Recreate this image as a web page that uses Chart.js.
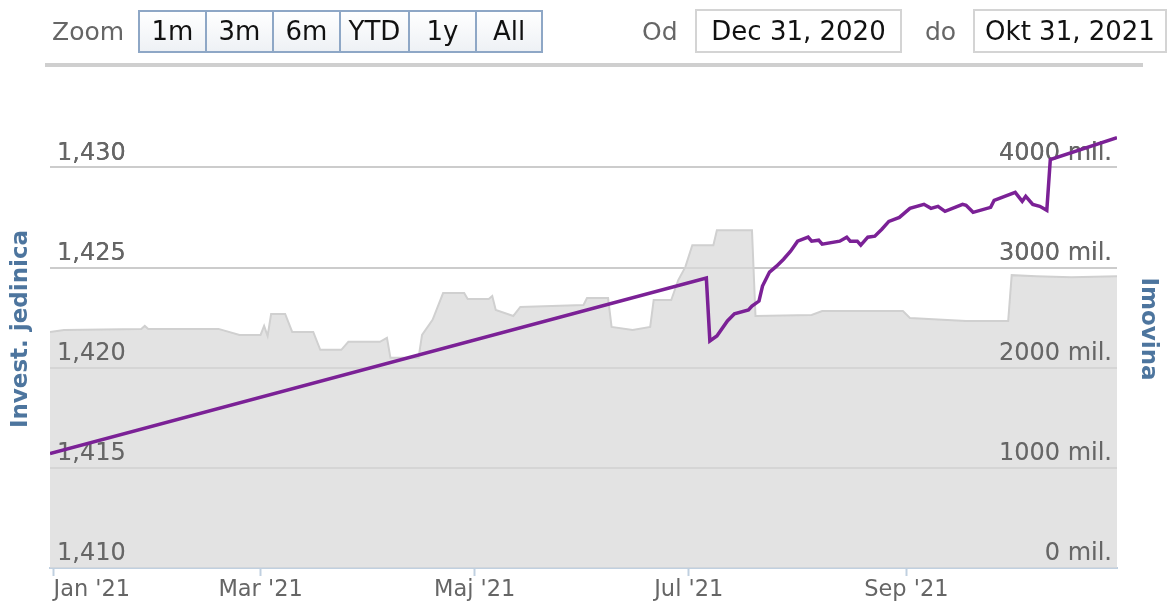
<!DOCTYPE html>
<html>
<head>
<meta charset="utf-8">
<script src="https://cdn.jsdelivr.net/npm/chart.js@4.4.1/dist/chart.umd.min.js"></script>
<style>
  body { margin: 0; background: #fff; font-family: "DejaVu Sans", Verdana, sans-serif; }
  #wrap { position: relative; width: 1170px; height: 605px; overflow: hidden; }
  #chart { position: absolute; left: 0; top: 0; }
  .lbl { position: absolute; top: 15px; font-size: 25px; color: #666; line-height: 34px; }
  .btns { position: absolute; left: 138px; top: 10px; height: 39px; display: flex; border: 2px solid #8ea7c6; }
  .btns div { height: 39px; line-height: 39px; text-align: center; font-size: 26px; color: #111;
              background: linear-gradient(#ffffff, #eef1f5); border-left: 2px solid #8ea7c6; }
  .btns div:first-child { border-left: none; }
  .inp { position: absolute; top: 9px; height: 40px; line-height: 40px; border: 2px solid #d4d4d4;
         font-size: 26px; color: #111; text-align: center; background: #fff; }
  #sep { position: absolute; left: 45px; top: 63px; width: 1098px; height: 4px; background: #cfcfcf; }
</style>
</head>
<body>
<div id="wrap">
  <canvas id="chart" width="1170" height="605"></canvas>
  <div class="lbl" style="left:52px">Zoom</div>
  <div class="btns">
    <div style="width:65px">1m</div>
    <div style="width:65px">3m</div>
    <div style="width:65px">6m</div>
    <div style="width:67px">YTD</div>
    <div style="width:65px">1y</div>
    <div style="width:64px">All</div>
  </div>
  <div class="lbl" style="left:642px">Od</div>
  <div class="inp" style="left:695px; width:203px">Dec 31, 2020</div>
  <div class="lbl" style="left:925px">do</div>
  <div class="inp" style="left:973px; width:190px">Okt 31, 2021</div>
  <div id="sep"></div>
</div>

<script>
// days counted from Jan 1 2021 (Dec 31 2020 = -1, Okt 31 2021 = 303)
var navDays = [-1, 186, 187, 189, 192, 194, 198, 199, 201, 202, 204, 206, 208, 210, 212, 215, 216, 218, 219,
  224, 226, 227, 229, 230, 232, 234, 236, 238, 241, 244, 248, 250, 252, 254, 259, 260, 262, 267, 268,
  274, 276, 277, 279, 281, 283, 284, 303];
var navValues = [1.41572, 1.42448, 1.42134, 1.42159, 1.42234, 1.42269, 1.42289, 1.42308, 1.42333, 1.42408,
  1.42478, 1.42507, 1.42542, 1.42582, 1.42632, 1.42652, 1.42632, 1.42637, 1.42617, 1.42632, 1.42652,
  1.42632, 1.42632, 1.42612, 1.42652, 1.42657, 1.42692, 1.42731, 1.42751, 1.42796, 1.42816, 1.42796,
  1.42806, 1.42781, 1.42816, 1.42811, 1.42776, 1.42801, 1.42836, 1.42876, 1.42831, 1.42856, 1.42816,
  1.42806, 1.42786, 1.43040, 1.43149];

// imovina in mil.
var assetDays = [-1, 3, 25, 26, 27, 47, 53, 59, 60, 61, 62, 66, 68, 74, 76, 82, 84, 93, 95, 96, 104, 105,
  108, 111, 117, 118, 124, 125, 126, 131, 133, 151, 152, 158, 159, 165, 170, 171, 176, 178, 180, 182,
  188, 189, 199, 200, 216, 219, 242, 244, 260, 272, 273, 280, 290, 303];
var assetValues = [2358, 2378, 2388, 2418, 2388, 2388, 2328, 2328, 2418, 2318, 2537, 2537, 2358, 2358,
  2179, 2179, 2259, 2259, 2298, 2099, 2099, 2328, 2478, 2746, 2746, 2687, 2687, 2716, 2577, 2517, 2607,
  2627, 2696, 2696, 2408, 2378, 2408, 2677, 2677, 2876, 3005, 3224, 3224, 3373, 3373, 2517, 2527, 2567,
  2567, 2497, 2468, 2468, 2925, 2915, 2905, 2915];

var monthTicks = [0, 59, 120, 181, 243, 303];
var monthLabels = ["Jan '21", "Mar '21", "Maj '21", "Jul '21", "Sep '21", ""];
var leftTicks = [1.410, 1.415, 1.420, 1.425, 1.430];
var rightTicks = [0, 1000, 2000, 3000, 4000];

var fontFamily = '"DejaVu Sans", Verdana, sans-serif';

function toPoints(xs, ys) {
  var pts = [];
  for (var i = 0; i < xs.length; i++) pts.push({ x: xs[i], y: ys[i] });
  return pts;
}

function fixedTicks(list) {
  return function (scale) {
    scale.ticks = list.map(function (v) { return { value: v }; });
  };
}

// y labels sit above the grey area but under the purple line
var labelsOverArea = {
  id: 'labelsOverArea',
  afterDatasetDraw: function (chart, args) {
    if (args.index !== 1) return;
    chart.scales.yLeft.drawLabels(chart.chartArea);
    chart.scales.yRight.drawLabels(chart.chartArea);
  }
};

var ctx = document.getElementById('chart');

var chart = new Chart(ctx, {
  type: 'line',
  data: {
    datasets: [{
      label: 'Invest. jedinica',
      data: toPoints(navDays, navValues),
      yAxisID: 'yLeft',
      borderColor: '#7b2196',
      borderWidth: 3.5,
      pointRadius: 0,
      tension: 0,
      fill: false
    }, {
      label: 'Imovina',
      data: toPoints(assetDays, assetValues),
      yAxisID: 'yRight',
      borderColor: '#d0d0d0',
      borderWidth: 2,
      backgroundColor: 'rgba(217,217,217,0.73)',
      pointRadius: 0,
      tension: 0,
      fill: 'start'
    }]
  },
  plugins: [labelsOverArea],
  options: {
    responsive: false,
    animation: false,
    devicePixelRatio: 1,
    layout: { padding: { top: 90, left: 0, right: 0, bottom: 0 } },
    plugins: { legend: { display: false }, tooltip: { enabled: false } },
    scales: {
      x: {
        type: 'linear',
        min: -1,
        max: 303,
        afterBuildTicks: fixedTicks(monthTicks),
        grid: {
          display: true,
          drawOnChartArea: false,
          drawTicks: true,
          tickLength: 8,
          tickWidth: 2,
          tickColor: function (c) { return c.index === monthTicks.length - 1 ? 'rgba(0,0,0,0)' : '#c0d0e0'; }
        },
        border: { display: true, color: '#c0d0e0', width: 2 },
        ticks: {
          align: 'inner',
          autoSkip: false,
          maxRotation: 0,
          padding: 1,
          color: '#666',
          font: { family: fontFamily, size: 22.5 },
          callback: function (v) {
            var i = monthTicks.indexOf(v);
            return i >= 0 ? monthLabels[i] : '';
          }
        }
      },
      yLeft: {
        type: 'linear',
        position: 'left',
        min: 1.410,
        max: 1.43387,
        afterBuildTicks: fixedTicks(leftTicks),
        afterFit: function (scale) { scale.width = 50; },
        grid: {
          drawTicks: false,
          lineWidth: 2,
          color: function (c) { return c.index === 0 ? 'rgba(0,0,0,0)' : '#cccccc'; }
        },
        border: { display: false },
        title: {
          display: true,
          text: 'Invest. jedinica',
          color: '#4d759e',
          font: { family: fontFamily, size: 23, weight: 'bold', lineHeight: 1.2 },
          padding: { top: 7, bottom: 8 }
        },
        ticks: {
          mirror: true,
          padding: 7,
          labelOffset: -14,
          color: '#666',
          font: { family: fontFamily, size: 24 },
          callback: function (v) { return v.toFixed(3).replace('.', ','); }
        }
      },
      yRight: {
        type: 'linear',
        position: 'right',
        min: 0,
        max: 4774,
        afterBuildTicks: fixedTicks(rightTicks),
        afterFit: function (scale) { scale.width = 53; },
        grid: { display: false },
        border: { display: false },
        title: {
          display: true,
          text: 'Imovina',
          color: '#4d759e',
          font: { family: fontFamily, size: 23, weight: 'bold', lineHeight: 1.2 },
          padding: { top: 8, bottom: 12 }
        },
        ticks: {
          mirror: true,
          padding: -5,
          labelOffset: -14,
          color: '#666',
          font: { family: fontFamily, size: 24 },
          callback: function (v) { return v + ' mil.'; }
        }
      }
    }
  }
});
</script>
</body>
</html>
